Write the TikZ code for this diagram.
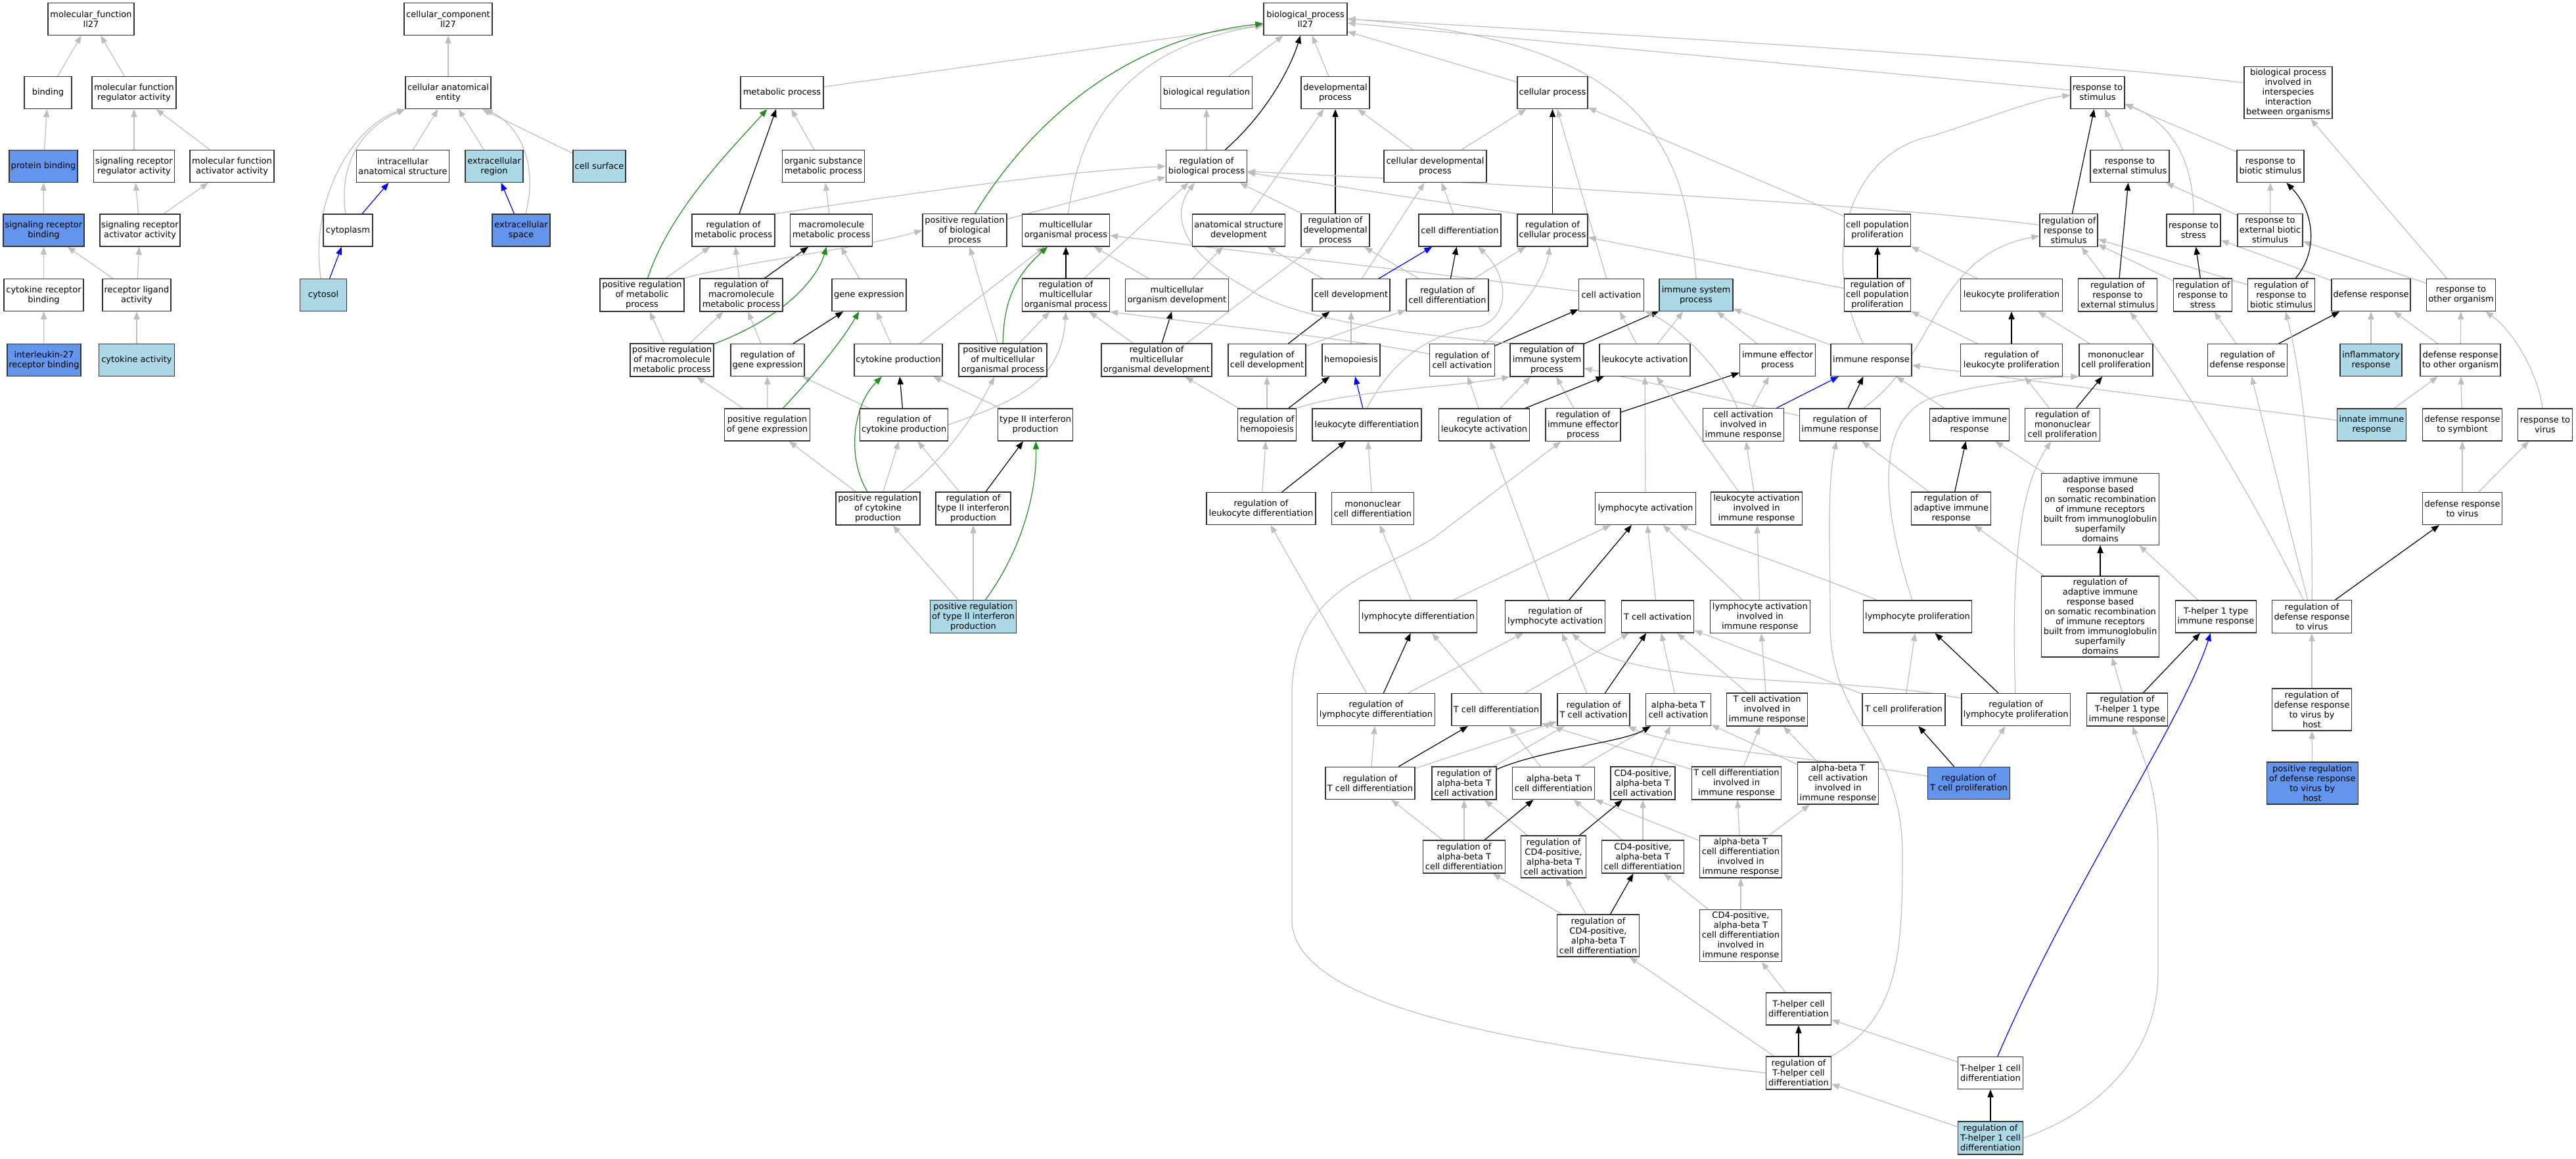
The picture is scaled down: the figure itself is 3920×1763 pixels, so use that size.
\documentclass[tikz,border=0pt]{standalone}
\usepackage{fontspec}
\setmainfont{DejaVu Sans}
\usetikzlibrary{arrows.meta}
\pgfdeclarelayer{bglayer}
\pgfdeclarelayer{edgelayer}
\pgfsetlayers{bglayer,edgelayer,main}
\definecolor{egray}{HTML}{BEBEBE}
\definecolor{nblue}{HTML}{6495ED}
\definecolor{nlight}{HTML}{ADD8E6}
\definecolor{egreen}{HTML}{228B22}
\tikzset{
 nbox/.style={draw=black!80, line width=0.65pt, fill=white, rectangle, inner xsep=1pt, inner ysep=0pt, align=center, font=\fontsize{6.5pt}{7.5pt}\selectfont, text=black},
 dk/.style={fill=nblue},
 lt/.style={fill=nlight},
 wt/.style={},
 ebase/.style={line width=0.6pt, -{Triangle[length=6pt,width=4.6pt]}},
 eg/.style={ebase, draw=egray},
 ek/.style={ebase, draw=black},
 eb/.style={ebase, draw=blue},
 en/.style={ebase, draw=egreen},
}
\newcommand\nd[7]{\node[nbox,#6,minimum width=#4*0.5pt,minimum height=#5*0.5pt] (#1) at (#2,#3) {#7};}
\begin{document}
\begin{tikzpicture}[x=0.5pt,y=-0.5pt]
\begin{pgfonlayer}{bglayer}
\fill[white] (0,0) rectangle (3920,1763);
\end{pgfonlayer}
\useasboundingbox (0,0) rectangle (3920,1763);
% ---------- molecular function ----------
\nd{mf}{138.5}{29}{131}{49}{wt}{molecular\_function\\Il27}
\nd{bind}{73}{141}{72}{49}{wt}{binding}
\nd{mfra}{204}{141}{128}{49}{wt}{molecular function\\regulator activity}
\nd{pb}{66}{253}{104}{49}{dk}{protein binding}
\nd{srra}{204}{253}{123}{49}{wt}{signaling receptor\\regulator activity}
\nd{mfaa}{353}{253}{128}{49}{wt}{molecular function\\activator activity}
\nd{srb}{66.5}{350.5}{123}{49}{dk}{signaling receptor\\binding}
\nd{sraa}{213}{350.5}{122}{49}{wt}{signaling receptor\\activator activity}
\nd{crb}{66.5}{449}{121}{49}{wt}{cytokine receptor\\binding}
\nd{rla}{208}{449}{104}{49}{wt}{receptor ligand\\activity}
\nd{il27}{67}{548}{112}{49}{dk}{interleukin-27\\receptor binding}
\nd{ca}{208}{548}{115}{49}{lt}{cytokine activity}
% ---------- cellular component ----------
\nd{cc}{682}{29}{134}{49}{wt}{cellular\_component\\Il27}
\nd{cae}{682}{141}{130}{49}{wt}{cellular anatomical\\entity}
\nd{ias}{613}{253}{141}{49}{wt}{intracellular\\anatomical structure}
\nd{ecr}{752}{253}{88}{49}{lt}{extracellular\\region}
\nd{cs}{912}{253}{80}{49}{lt}{cell surface}
\nd{cyt}{529.5}{350.5}{75}{49}{wt}{cytoplasm}
\nd{ecs}{793}{350.5}{88}{49}{dk}{extracellular\\space}
\nd{cytosol}{492}{449}{71}{49}{lt}{cytosol}
% ---------- biological process ----------
\nd{bp}{1986.5}{29}{127}{49}{wt}{biological\_process\\Il27}
\nd{mp}{1190}{141}{126}{49}{wt}{metabolic process}
\nd{br}{1836}{141}{139}{49}{wt}{biological regulation}
\nd{dp}{2032}{141}{104}{49}{wt}{developmental\\process}
\nd{cp}{2362.5}{141}{107}{49}{wt}{cellular process}
\nd{rs}{3192}{141}{82}{49}{wt}{response to\\stimulus}
\nd{bpi}{3482}{141}{134}{79}{wt}{biological process\\involved in\\interspecies\\interaction\\between organisms}
% row C
\nd{osmp}{1253}{253}{125}{49}{wt}{organic substance\\metabolic process}
\nd{rbp}{1836}{253}{123}{49}{wt}{regulation of\\biological process}
\nd{cdp}{2184}{253}{156}{49}{wt}{cellular developmental\\process}
\nd{res}{3241}{253}{120}{49}{wt}{response to\\external stimulus}
\nd{rbs}{3455}{253}{102}{49}{wt}{response to\\biotic stimulus}
% row D
\nd{rmp}{1116}{350.5}{126}{49}{wt}{regulation of\\metabolic process}
\nd{mmp}{1265}{350.5}{125}{49}{wt}{macromolecule\\metabolic process}
\nd{prbp}{1468}{350.5}{128}{50}{wt}{positive regulation\\of biological\\process}
\nd{mop}{1622}{350.5}{133}{49}{wt}{multicellular\\organismal process}
\nd{asd}{1885}{350.5}{141}{49}{wt}{anatomical structure\\development}
\nd{rdp}{2032}{350.5}{104}{50}{wt}{regulation of\\developmental\\process}
\nd{cd}{2221.5}{350.5}{125}{49}{wt}{cell differentiation}
\nd{rcp}{2362.5}{350.5}{107}{49}{wt}{regulation of\\cellular process}
\nd{cpp}{2857}{350.5}{101}{49}{wt}{cell population\\proliferation}
\nd{rrs}{3148}{350.5}{88}{50}{wt}{regulation of\\response to\\stimulus}
\nd{rstress}{3338}{350.5}{82}{49}{wt}{response to\\stress}
\nd{rebs}{3454.5}{350.5}{99}{50}{wt}{response to\\external biotic\\stimulus}
% row E
\nd{pmp}{977}{449}{128}{50}{wt}{positive regulation\\of metabolic\\process}
\nd{rmmp}{1128}{449}{126}{50}{wt}{regulation of\\macromolecule\\metabolic process}
\nd{ge}{1322.5}{449}{113}{49}{wt}{gene expression}
\nd{rmop}{1622}{449}{133}{50}{wt}{regulation of\\multicellular\\organismal process}
\nd{mod}{1791}{449}{157}{49}{wt}{multicellular\\organism development}
\nd{cdev}{2056}{449}{118}{49}{wt}{cell development}
\nd{rcd}{2202.5}{449}{125}{49}{wt}{regulation of\\cell differentiation}
\nd{cact}{2452}{449}{99}{49}{wt}{cell activation}
\nd{isp}{2581}{449}{112}{49}{lt}{immune system\\process}
\nd{rcpp}{2857}{449}{101}{50}{wt}{regulation of\\cell population\\proliferation}
\nd{lp}{3061}{449}{155}{49}{wt}{leukocyte proliferation}
\nd{rres}{3222.5}{449}{120}{50}{wt}{regulation of\\response to\\external stimulus}
\nd{rrstress}{3352}{449}{89}{50}{wt}{regulation of\\response to\\stress}
\nd{rrbs}{3471.5}{449}{102}{50}{wt}{regulation of\\response to\\biotic stimulus}
\nd{dr}{3608}{449}{120}{49}{wt}{defense response}
\nd{rtoo}{3745}{449}{105}{49}{wt}{response to\\other organism}
% row F
\nd{pmmp}{1022.5}{548}{127}{50}{wt}{positive regulation\\of macromolecule\\metabolic process}
\nd{rge}{1168}{548}{112}{49}{wt}{regulation of\\gene expression}
\nd{cprod}{1367}{548}{134}{49}{wt}{cytokine production}
\nd{pmop}{1526}{548}{134}{50}{wt}{positive regulation\\of multicellular\\organismal process}
\nd{rmod}{1760}{548}{168}{50}{wt}{regulation of\\multicellular\\organismal development}
\nd{rcdev}{1928}{548}{118}{49}{wt}{regulation of\\cell development}
\nd{hemo}{2056}{548}{88}{49}{wt}{hemopoiesis}
\nd{rca}{2225}{548}{99}{49}{wt}{regulation of\\cell activation}
\nd{risp}{2354}{548}{112}{50}{wt}{regulation of\\immune system\\process}
\nd{la}{2503}{548}{138}{49}{wt}{leukocyte activation}
\nd{iep}{2705}{548}{115}{49}{wt}{immune effector\\process}
\nd{ir}{2847.5}{548}{123}{49}{wt}{immune response}
\nd{rlp}{3061}{548}{155}{49}{wt}{regulation of\\leukocyte proliferation}
\nd{mcp}{3220}{548}{112}{49}{wt}{mononuclear\\cell proliferation}
\nd{rdr}{3420}{548}{121}{49}{wt}{regulation of\\defense response}
\nd{infl}{3608}{548}{94}{49}{lt}{inflammatory\\response}
\nd{drtoo}{3744}{548}{122}{49}{wt}{defense response\\to other organism}
% row G
\nd{prge}{1167.5}{646.5}{130}{49}{wt}{positive regulation\\of gene expression}
\nd{rcprod}{1375.6}{646.5}{134}{49}{wt}{regulation of\\cytokine production}
\nd{t2}{1575.6}{646.5}{114}{49}{wt}{type II interferon\\production}
\nd{rhemo}{1928}{646.5}{89}{49}{wt}{regulation of\\hemopoiesis}
\nd{ld}{2080}{646.5}{166}{49}{wt}{leukocyte differentiation}
\nd{rla2}{2258.5}{646.5}{138}{49}{wt}{regulation of\\leukocyte activation}
\nd{riep}{2409}{646.5}{114}{50}{wt}{regulation of\\immune effector\\process}
\nd{caiir}{2653}{646.5}{122.5}{50}{wt}{cell activation\\involved in\\immune response}
\nd{rir}{2800}{646.5}{122.6}{49}{wt}{regulation of\\immune response}
\nd{air}{2997}{646.5}{121}{49}{wt}{adaptive immune\\response}
\nd{rmcp}{3138.5}{646.5}{113.6}{50}{wt}{regulation of\\mononuclear\\cell proliferation}
\nd{iir}{3609}{646.5}{105}{49}{lt}{innate immune\\response}
\nd{drts}{3747}{646.5}{120.7}{49}{wt}{defense response\\to symbiont}
\nd{rtv}{3873}{646.5}{83}{49}{wt}{response to\\virus}
% row H
\nd{prcprod}{1336}{774}{128}{50}{wt}{positive regulation\\of cytokine\\production}
\nd{rt2}{1481}{774}{114}{50}{wt}{regulation of\\type II interferon\\production}
\nd{rld}{1919}{774}{166}{49}{wt}{regulation of\\leukocyte differentiation}
\nd{mcd}{2089}{774}{125}{49}{wt}{mononuclear\\cell differentiation}
\nd{lact}{2504}{774}{152.5}{49}{wt}{lymphocyte activation}
\nd{laiir}{2673}{774}{139}{50}{wt}{leukocyte activation\\involved in\\immune response}
\nd{rair}{2969}{774}{121}{50}{wt}{regulation of\\adaptive immune\\response}
\nd{airb}{3196}{774.7}{179.6}{109}{wt}{adaptive immune\\response based\\on somatic recombination\\of immune receptors\\built from immunoglobulin\\superfamily\\domains}
\nd{drv}{3747}{774}{120.7}{49}{wt}{defense response\\to virus}
% row I
\nd{prt2}{1481}{938.5}{131}{50}{lt}{positive regulation\\of type II interferon\\production}
\nd{lymd}{2158}{938.5}{179}{49}{wt}{lymphocyte differentiation}
\nd{rlact}{2366.6}{938.5}{152}{49}{wt}{regulation of\\lymphocyte activation}
\nd{tca}{2522.5}{938.5}{110}{49}{wt}{T cell activation}
\nd{lyaiir}{2678.4}{938.5}{152}{50}{wt}{lymphocyte activation\\involved in\\immune response}
\nd{lyp}{2918}{938.5}{165.6}{49}{wt}{lymphocyte proliferation}
\nd{rairb}{3196}{938.5}{179.6}{123}{wt}{regulation of\\adaptive immune\\response based\\on somatic recombination\\of immune receptors\\built from immunoglobulin\\superfamily\\domains}
\nd{th1ir}{3372}{938.5}{122.7}{49}{wt}{T-helper 1 type\\immune response}
\nd{rdrv}{3518}{938.5}{121}{50}{wt}{regulation of\\defense response\\to virus}
% row J
\nd{rlymd}{2094}{1080}{179}{49}{wt}{regulation of\\lymphocyte differentiation}
\nd{tcd}{2277}{1080}{136}{49}{wt}{T cell differentiation}
\nd{rtca}{2425}{1080}{110}{49}{wt}{regulation of\\T cell activation}
\nd{abtca}{2554}{1080}{99}{49}{wt}{alpha-beta T\\cell activation}
\nd{tcaiir}{2689}{1080}{123}{50}{wt}{T cell activation\\involved in\\immune response}
\nd{tcp}{2897}{1080}{126}{49}{wt}{T cell proliferation}
\nd{rlyp}{3067.6}{1080}{165.5}{49}{wt}{regulation of\\lymphocyte proliferation}
\nd{rth1ir}{3237}{1080}{122.7}{50}{wt}{regulation of\\T-helper 1 type\\immune response}
\nd{rdrvh}{3518}{1080}{121}{64}{wt}{regulation of\\defense response\\to virus by\\host}
% row K
\nd{rtcd}{2085}{1192}{136}{49}{wt}{regulation of\\T cell differentiation}
\nd{rabtca}{2228}{1192}{98}{50}{wt}{regulation of\\alpha-beta T\\cell activation}
\nd{abtcd}{2364}{1192}{125}{49}{wt}{alpha-beta T\\cell differentiation}
\nd{cd4a}{2500}{1192}{98}{50}{wt}{CD4-positive,\\alpha-beta T\\cell activation}
\nd{tcdiir}{2642.5}{1192}{136}{50}{wt}{T cell differentiation\\involved in\\immune response}
\nd{abtcaiir}{2797}{1192}{123}{64}{wt}{alpha-beta T\\cell activation\\involved in\\immune response}
\nd{rtcp}{2996}{1192}{125}{49}{dk}{regulation of\\T cell proliferation}
\nd{prdrvh}{3518.7}{1192}{139}{64}{dk}{positive regulation\\of defense response\\to virus by\\host}
% row L
\nd{rabtcd}{2228}{1304}{125.6}{50}{wt}{regulation of\\alpha-beta T\\cell differentiation}
\nd{rcd4a}{2364}{1304}{99}{64}{wt}{regulation of\\CD4-positive,\\alpha-beta T\\cell activation}
\nd{cd4d}{2500}{1304}{125}{50}{wt}{CD4-positive,\\alpha-beta T\\cell differentiation}
\nd{abtcdiir}{2649}{1304}{125}{64}{wt}{alpha-beta T\\cell differentiation\\involved in\\immune response}
% row M
\nd{rcd4d}{2432}{1424}{125}{64}{wt}{regulation of\\CD4-positive,\\alpha-beta T\\cell differentiation}
\nd{cd4diir}{2649}{1424}{125}{79}{wt}{CD4-positive,\\alpha-beta T\\cell differentiation\\involved in\\immune response}
% rows N-P
\nd{thcd}{2737}{1535.5}{99}{49}{wt}{T-helper cell\\differentiation}
\nd{rthcd}{2737}{1633}{99}{50}{wt}{regulation of\\T-helper cell\\differentiation}
\nd{th1cd}{3029}{1633}{99}{49}{wt}{T-helper 1 cell\\differentiation}
\nd{rth1cd}{3029}{1732}{99}{50}{lt}{regulation of\\T-helper 1 cell\\differentiation}

\begin{pgfonlayer}{edgelayer}
% gray straight edges
\foreach \a/\b in {bind/mf,mfra/mf,pb/bind,srra/mfra,mfaa/mfra,srb/pb,sraa/srra,sraa/mfaa,crb/srb,rla/srb,rla/sraa,il27/crb,ca/rla,
 cae/cc,ias/cae,ecr/cae,cs/cae,
 mp/bp,br/bp,dp/bp,cp/bp,rs/bp,rbp/br,prbp/rbp,osmp/mp,mmp/osmp,pmp/rmp,rmmp/rmp,ge/mmp,pmmp/pmp,pmmp/rmmp,rge/rmmp,cprod/ge,cprod/mop,
 pmop/prbp,pmop/rmop,rmop/rbp,mod/mop,mod/asd,rmod/rmop,asd/dp,rdp/rbp,cdp/dp,cdp/cp,cd/cdp,cdev/cdp,cdev/asd,rcd/rdp,rcd/rcp,
 cact/cp,cact/mop,cpp/cp,rcpp/rcp,rcdev/rcd,hemo/cdev,la/cact,la/isp,iep/isp,ir/isp,
 res/rs,rbs/rs,rebs/res,rebs/rbs,rres/rrs,rrstress/rrs,rrbs/rrs,dr/rstress,rtoo/rebs,rtoo/bpi,rdr/rrstress,infl/dr,drtoo/dr,drtoo/rtoo,
 lp/cpp,rlp/rcpp,mcp/lp,rmcp/rlp,air/ir,rir/risp,iir/ir,iir/drtoo,drts/drtoo,drv/drts,drv/rtv,rdrv/rdr,rdrvh/rdrv,prdrvh/rdrvh,
 airb/air,rairb/rair,rair/rir,th1ir/airb,rth1ir/rairb,th1cd/thcd,rth1cd/rthcd,tcp/lyp,tcp/tca,rtcp/rlyp,
 rhemo/rcdev,rhemo/rmod,rld/rhemo,mcd/ld,rla2/risp,rla2/rca,riep/risp,caiir/iep,laiir/caiir,lact/la,lymd/mcd,lymd/lact,rlact/rla2,tca/lact,
 lyaiir/lact,lyaiir/laiir,rlymd/rlact,rlymd/rld,tcd/lymd,tcd/tca,rtca/rlact,abtca/tca,tcaiir/tca,tcaiir/lyaiir,rtcd/rlymd,rtcd/rtca,rabtca/rtca,
 abtcd/tcd,abtcd/abtca,cd4a/abtca,tcdiir/tcaiir,tcdiir/tcd,abtcaiir/tcaiir,abtcaiir/abtca,rabtcd/rabtca,rabtcd/rtcd,rcd4a/rabtca,
 cd4d/abtcd,cd4d/cd4a,abtcdiir/tcdiir,abtcdiir/abtcaiir,abtcdiir/abtcd,rcd4d/rcd4a,rcd4d/rabtcd,cd4diir/abtcdiir,cd4diir/cd4d,thcd/cd4diir,
 rthcd/rcd4d,prge/pmmp,prge/rge,rcprod/rge,t2/cprod,prcprod/prge,prcprod/rcprod,rt2/rcprod,prt2/prcprod,prt2/rt2}
 \draw[eg] (\a) -- (\b);
% black straight edges
\foreach \a/\b in {rmp/mp,rmmp/mmp,rge/ge,rcprod/cprod,rt2/t2,rmop/mop,rmod/mod,rdp/dp,rcp/cp,rcd/cd,rcdev/cdev,rhemo/hemo,rld/ld,
 rca/cact,risp/isp,rla2/la,riep/iep,rir/ir,rcpp/cpp,rlp/lp,rmcp/mcp,rrs/rs,rres/res,rrstress/rstress,rdr/dr,rair/air,rairb/airb,
 rdrv/drv,rlact/lact,rlymd/lymd,rtca/tca,rtcd/tcd,rabtcd/abtcd,rcd4a/cd4a,rcd4d/cd4d,rthcd/thcd,rth1cd/th1cd,rth1ir/th1ir,rlyp/lyp,rtcp/tcp}
 \draw[ek] (\a) -- (\b);
% blue straight edges
\foreach \a/\b in {cyt/ias,cytosol/cyt,ecs/ecr,cdev/cd,ld/hemo,caiir/ir}
 \draw[eb] (\a) -- (\b);
% special anchored straight edges
\draw[eg] ([xshift=21.5pt]laiir.north west) -- (la);
\draw[eg] (rcp.north west) -- (rbp);
\draw[eg] ([xshift=23pt]rmod.north) -- ([xshift=-17pt]rdp.south);
% gray curves
\draw[eg] (cytosol) .. controls (470,300) and (540,190) .. (cae.south west);
\draw[eg] (cyt) .. controls (515,250) and (550,195) .. (cae.south west);
\draw[eg] (ecs) .. controls (820,250) and (790,190) .. ([xshift=-5pt]cae.south east);
\draw[eg] (mop) .. controls (1645,180) and (1720,70) .. (bp);
\draw[eg] (isp.north) .. controls (2565,220) and (2500,60) .. (bp.east);
\draw[eg] ([yshift=7.5pt]bpi.west) .. controls (3250,105) and (2800,70) .. (bp.east);
\draw[eg] (rmp.north east) .. controls (1350,300) and (1600,262) .. (rbp.west);
\draw[eg] (pmp.north east) .. controls (1150,395) and (1300,380) .. (prbp.west);
\draw[eg] (rca) .. controls (2300,490) and (2350,430) .. (rcp);
\draw[eg] (rca) .. controls (2050,515) and (1850,495) .. (rmop.south east);
\draw[eg] (risp.north west) .. controls (2100,505) and (1960,480) .. (1900,440) .. controls (1800,385) and (1780,330) .. (rbp);
\draw[eg] (ld.north) .. controls (2120,545) and (2180,505) .. (2252,497) .. controls (2300,480) and (2295,420) .. ([xshift=14pt]cd.south);
\draw[eg] (rhemo.north east) .. controls (2050,595) and (2200,590) .. (risp.south west);
\draw[eg] (caiir) .. controls (2625,570) and (2560,500) .. (cact);
\draw[eg] (ir) .. controls (2765,380) and (2820,230) .. (2940,207) .. controls (3030,178) and (3100,150) .. (rs);
\draw[eg] (rstress) .. controls (3338,240) and (3300,185) .. (rs);
\draw[eg] (rtv) .. controls (3860,560) and (3820,500) .. (rtoo);
\draw[eg] (rdrv) .. controls (3400,700) and (3290,540) .. (rres);
\draw[eg] (rdrv) .. controls (3520,700) and (3500,560) .. (rrbs);
\draw[eg] (rir) .. controls (2950,540) and (2940,390) .. (rrs);
\draw[eg] ([yshift=4pt]rrs.west) .. controls (2900,315) and (2300,280) .. ([yshift=-4pt]rbp.east);
\draw[eg] (lyp) .. controls (2750,870) and (2600,820) .. (lact);
\draw[eg] (lyp) .. controls (2860,760) and (2850,620) .. (2960,600) .. controls (3030,582) and (3110,574) .. (mcp.south west);
\draw[eg] (rlyp) .. controls (3060,850) and (3075,740) .. (rmcp);
\draw[eg] (rlyp) .. controls (2800,1025) and (2480,1050) .. (rlact);
\draw[eg] (rtcp) .. controls (2750,1150) and (2550,1140) .. (rtca);
\draw[eg] (rthcd.west) .. controls (2300,1590) and (1966,1530) .. (1966,1400) -- (1966,1060) .. controls (1966,900) and (2080,880) .. (2180,820) -- (riep);
\draw[eg] (rthcd.north east) .. controls (2890,1550) and (2895,1450) .. (2895,1300) .. controls (2895,1130) and (2785,1100) .. (2785,950) .. controls (2785,820) and (2780,740) .. (rir);
\draw[eg] (rth1cd.east) .. controls (3200,1690) and (3284,1600) .. (3284,1480) -- (3284,1290) .. controls (3284,1200) and (3260,1150) .. (rth1ir);
\draw[eg] (rcprod.east) .. controls (1540,612) and (1615,585) .. (rmop.south);
\draw[eg] (prcprod) .. controls (1440,700) and (1490,620) .. (pmop);
% black curves
\draw[ek] (rbp) .. controls (1930,170) and (1965,100) .. (bp);
\draw[ek] (rrbs) .. controls (3530,380) and (3520,320) .. (rbs);
\draw[ek] (rabtca) .. controls (2350,1140) and (2470,1130) .. (abtca);
% blue curve
\draw[eb] (th1cd) .. controls (3150,1350) and (3320,1100) .. (th1ir);
% green curves
\draw[en] (prbp) .. controls (1560,200) and (1700,60) .. (bp);
\draw[en] (pmp) .. controls (1020,320) and (1110,230) .. (mp);
\draw[en] (pmmp) .. controls (1200,480) and (1245,420) .. (mmp);
\draw[en] (prge) .. controls (1240,570) and (1280,520) .. (ge);
\draw[en] (pmop) .. controls (1527,459) and (1545,420) .. (mop);
\draw[en] (prcprod) .. controls (1290,700) and (1295,620) .. (cprod);
\draw[en] (prt2) .. controls (1560,830) and (1578,740) .. (t2);
\end{pgfonlayer}
\end{tikzpicture}
\end{document}
